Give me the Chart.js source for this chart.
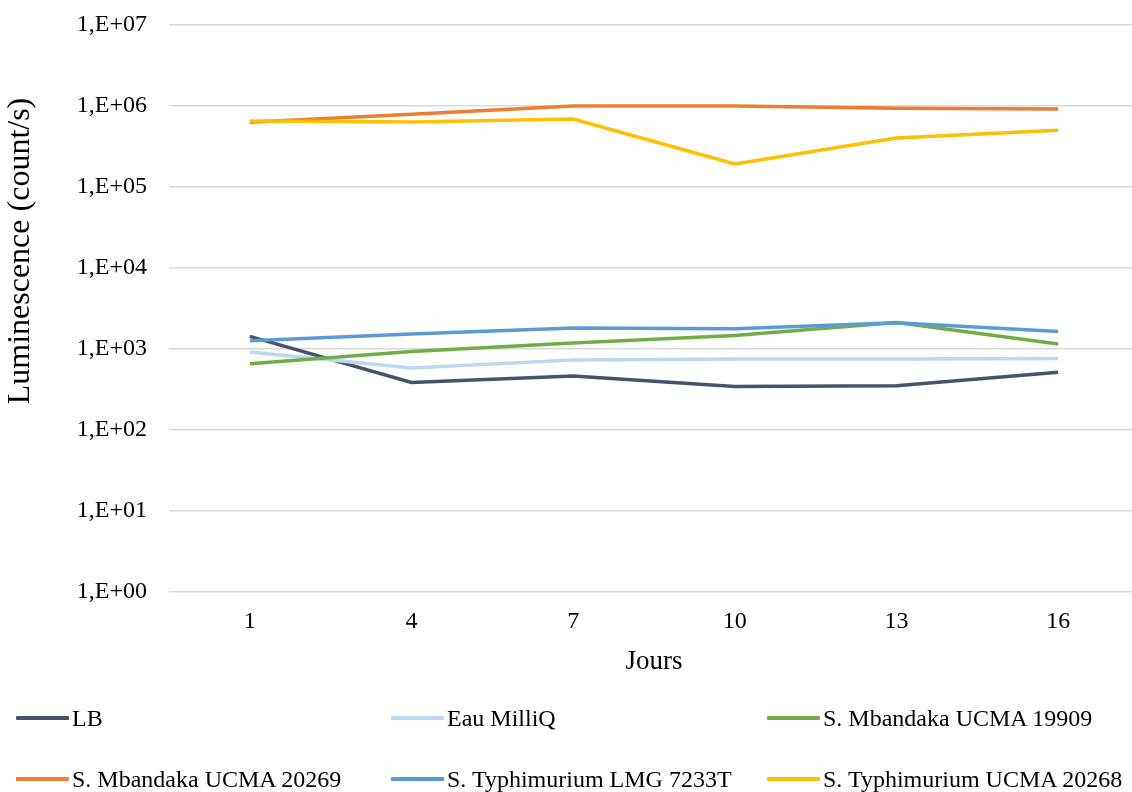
<!DOCTYPE html>
<html>
<head>
<meta charset="utf-8">
<script src="https://cdn.jsdelivr.net/npm/chart.js@4.4.1/dist/chart.umd.min.js"></script>
<style>
  html,body{margin:0;padding:0;background:#fff;overflow:hidden;width:1132px;height:792px}
  #wrap{position:absolute;left:0;top:0;width:1150px;height:690px}
  #legend{position:absolute;left:0;top:0;width:1132px;height:792px;pointer-events:none;
    font-family:"Times New Roman","Liberation Serif",serif;font-size:24px;color:#000}
  .lg-item{position:absolute;display:flex;align-items:center;height:30px;white-space:nowrap}
  .lg-line{display:inline-block;width:53px;height:4px;margin-right:3px;border-radius:1px}
</style>
</head>
<body>
<div id="wrap"><canvas id="chart"></canvas></div>
<div id="legend"></div>
<script>
/* ── Données ── */
const days = ['1','4','7','10','13','16'];
const seriesNames = ['LB','Eau MilliQ','S. Mbandaka UCMA 19909','S. Mbandaka UCMA 20269','S. Typhimurium LMG 7233T','S. Typhimurium UCMA 20268'];
const lbValues        = [1430, 387, 464, 345, 352, 515];
const milliqValues    = [920, 582, 731, 751, 751, 765];
const mbandaka19909   = [659, 933, 1186, 1471, 2128, 1153];
const mbandaka20269   = [630000, 791000, 1000000, 1000000, 936000, 918000];
const typhiLmg7233T   = [1265, 1531, 1815, 1781, 2114, 1641];
const typhiUcma20268  = [653000, 634000, 692000, 192000, 403000, 503000];
const yTickValues = [1, 10, 100, 1000, 10000, 100000, 1000000, 10000000];
const yTickLabels = ['1,E+00','1,E+01','1,E+02','1,E+03','1,E+04','1,E+05','1,E+06','1,E+07'];
const yTitle = 'Luminescence (count/s)';

const COLORS = ['#44546A','#BDD7EE','#70AD47','#ED7D31','#5B9BD5','#FFC000'];
const allValues = [lbValues, milliqValues, mbandaka19909, mbandaka20269, typhiLmg7233T, typhiUcma20268];
const FONT = '"Times New Roman","Liberation Serif",serif';

const datasets = allValues.map((v,i)=>({
  label: seriesNames[i], data: v, borderColor: COLORS[i], backgroundColor: COLORS[i],
  borderWidth: 3.5, pointRadius: 0, pointHoverRadius: 0, tension: 0, fill: false,
  order: allValues.length - i
}));

/* titre vertical, placé comme dans Excel (plus haut que le centre du tracé) */
const yTitlePlugin = {
  id: 'yTitle',
  afterDraw(chart) {
    const ctx = chart.ctx;
    ctx.save();
    ctx.translate(21, 251);
    ctx.rotate(-Math.PI / 2);
    ctx.font = '32px ' + FONT;
    ctx.fillStyle = '#000';
    ctx.textAlign = 'center';
    ctx.textBaseline = 'middle';
    ctx.fillText(yTitle, 0, 0);
    ctx.restore();
  }
};

new Chart(document.getElementById('chart'), {
  type: 'line',
  data: { labels: days, datasets },
  plugins: [yTitlePlugin],
  options: {
    responsive: true, maintainAspectRatio: false, animation: false,
    layout: { padding: { top: 25, left: 0, right: 11, bottom: 0 } },
    plugins: { legend: { display: false }, tooltip: { enabled: false } },
    scales: {
      x: {
        type: 'category', offset: true,
        grid: { display: false, drawTicks: false },
        border: { display: false },
        ticks: { color: '#000', font: { family: FONT, size: 24 }, padding: 15, maxRotation: 0 },
        title: { display: true, text: 'Jours', color: '#000', font: { family: FONT, size: 27 }, padding: { top: 0, bottom: 12 } },
        afterFit: s => { s.height = 98; }
      },
      y: {
        type: 'logarithmic', min: 1, max: 10000000,
        afterBuildTicks: s => { s.ticks = yTickValues.map(v => ({ value: v })); },
        grid: { color: '#d9d9d9', lineWidth: 1.5, drawTicks: false },
        border: { display: false },
        ticks: { color: '#000', font: { family: FONT, size: 24, lineHeight: 0.2 }, padding: 22,
          callback: v => { const k = yTickValues.indexOf(v); return k >= 0 ? yTickLabels[k] : ''; } },
        afterFit: s => { s.width = 169; }
      }
    }
  }
});

/* ── Légende ── */
const legCols = [16, 391, 767];
const legRows = [703, 764];
document.getElementById('legend').innerHTML = seriesNames.map((n,i)=>`
  <div class="lg-item" style="left:${legCols[i%3]}px;top:${legRows[Math.floor(i/3)]}px">
    <span class="lg-line" style="background:${COLORS[i]}"></span><span>${n}</span>
  </div>`).join('');
</script>
</body>
</html>
